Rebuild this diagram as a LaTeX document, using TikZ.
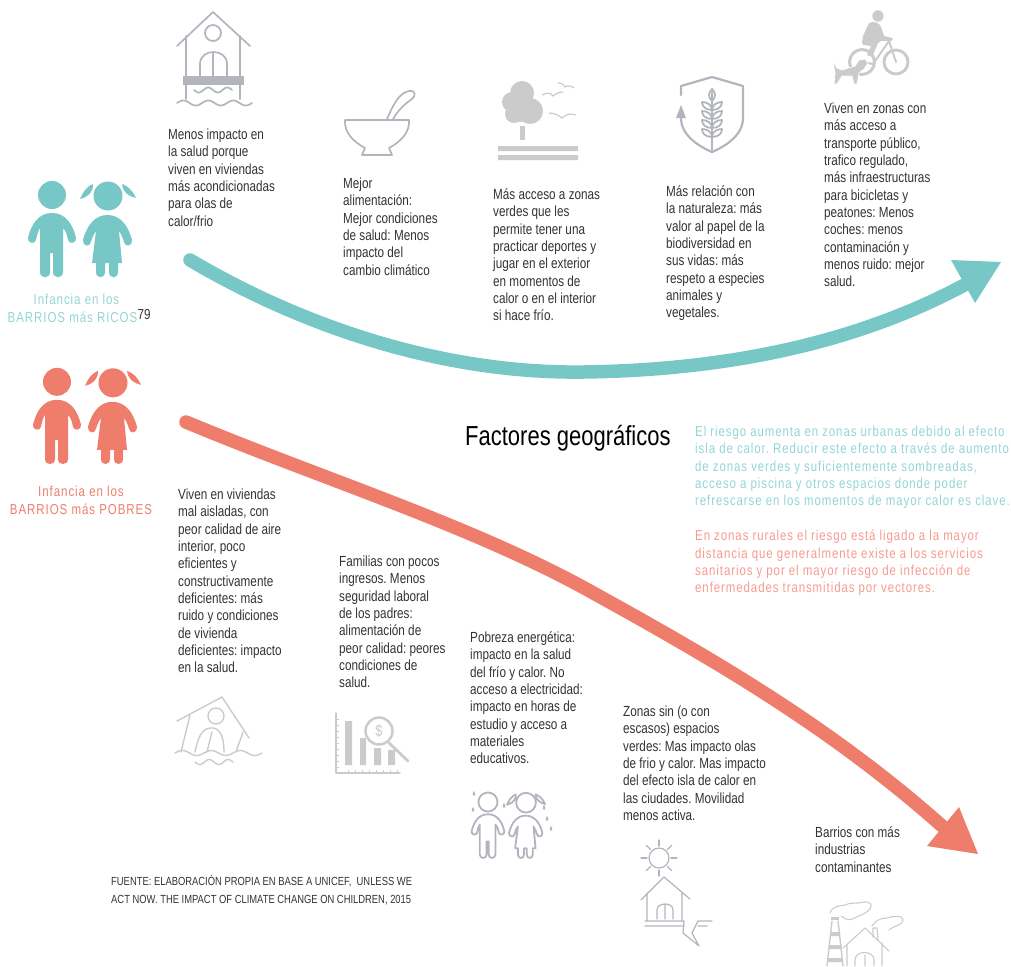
\documentclass[tikz,border=0pt]{standalone}
\usepackage{fontspec}
\usetikzlibrary{calc}
\setmainfont{Liberation Sans}
\newfontfamily\nrw[FakeStretch=0.80]{Liberation Sans}
\newfontfamily\nrwsp[FakeStretch=0.80,LetterSpace=6.5]{Liberation Sans}
\definecolor{teal1}{HTML}{76C7C6}
\definecolor{red1}{HTML}{EE7D6B}
\definecolor{tealtxt}{HTML}{93D5D5}
\definecolor{redtxt}{HTML}{F79A8E}
\definecolor{ink}{HTML}{333333}
\definecolor{icoa}{HTML}{B2B5BD}
\definecolor{icob}{HTML}{CBCBCB}
\frenchspacing
\tikzset{
  body/.style={font=\nrw\fontsize{14.65}{17.35}\selectfont,text=ink,anchor=north west,inner sep=0pt,align=left},
  side/.style={font=\nrwsp\fontsize{14.3}{17.3}\selectfont,anchor=north west,inner sep=0pt,align=left},
  kid/.style={font=\nrwsp\fontsize{14.4}{18}\selectfont,anchor=north,inner sep=0pt,align=center},
  ico/.style={draw=icoa,line width=1.7pt,line cap=round,line join=round,fill=none},
  icg/.style={draw=icob,line width=1.4pt,line cap=round,line join=round,fill=none},
  shaft/.style={line width=13.5pt,line cap=round}
}
\def\boyfig{(52,213) .. controls (38,213) and (31,225) .. (28,238) .. controls (27,243) and (35,245) .. (36,240) .. controls (37,235) and (38,231) .. (40,228) -- (40,272) .. controls (40,279) and (50,279) .. (50,272) -- (50,253) -- (53,253) -- (53,272) .. controls (53,279) and (63,279) .. (63,272) -- (63,228) .. controls (66,231) and (67,235) .. (68,240) .. controls (69,245) and (77,243) .. (76,238) .. controls (73,225) and (66,213) .. (52,213) -- cycle (52,195) circle[radius=14]}
\def\girlfig{(107.5,215) .. controls (95,215) and (87,225) .. (83,240) .. controls (82,246) and (90,248) .. (91,242) .. controls (92,238) and (94,234) .. (96,231) -- (92,263) -- (96,263) -- (96,272) .. controls (96,279) and (105,279) .. (105,272) -- (105,263) -- (109,263) -- (109,272) .. controls (109,279) and (118,279) .. (118,272) -- (118,263) -- (122,263) -- (119,231) .. controls (121,234) and (123,238) .. (124,242) .. controls (125,248) and (133,246) .. (132,240) .. controls (128,225) and (120,215) .. (107.5,215) -- cycle (108,196) circle[radius=14.5]
 (80,199) .. controls (83,192) and (87,186) .. (93,184) .. controls (94,190) and (89,197) .. (80,199) -- cycle
 (136,198) .. controls (133,191) and (128,186) .. (122,184) .. controls (122,190) and (127,196) .. (136,198) -- cycle}
\def\tear#1#2{(#1,#2) .. controls (#1-2,#2+3) and (#1-1.5,#2+5) .. (#1,#2+5) .. controls (#1+1.5,#2+5) and (#1+2,#2+3) .. (#1,#2) -- cycle}
\begin{document}
\begin{tikzpicture}[x=1pt,y=-1pt]
\useasboundingbox (0,0) rectangle (1011,966);
% children
\fill[teal1] \boyfig;
\fill[teal1] \girlfig;
\begin{scope}[shift={(5,186.8)}]
\fill[red1] \boyfig;
\fill[red1] \girlfig;
\end{scope}
\node[kid,text=tealtxt] (richlabel) at (72.5,293.5) {\hspace*{8pt}Infancia en los\\BARRIOS más RICOS};
\node[font=\nrw\fontsize{14.5}{15}\selectfont,text=ink,inner sep=0pt,anchor=base west] (note) at (137.5,319) {79};
\node[kid,text=red1] (poorlabel) at (81,485.5) {Infancia en los\\BARRIOS más POBRES};
% arrows
\coordinate (ta) at (190,260);
\coordinate (tm) at (584,372);
\coordinate (tb) at (968,283);
\coordinate (ra) at (186,422);
\coordinate (rm) at (588,590);
\coordinate (rb) at (942,826);
\draw[teal1,shaft] (ta) .. controls (300,325) and (440,374) .. (tm) .. controls (730,370) and (860,342) .. (tb);
\fill[teal1] (1001,262) -- (951,260) -- (975,303) -- cycle;
\draw[red1,shaft] (ra) .. controls (320,478) and (470,525) .. (rm) .. controls (700,652) and (825,722) .. (rb);
\fill[red1] (978,854) -- (959,807) -- (927,846) -- cycle;
% texts
\node[body] (t1) at (168,128.5) {Menos impacto en\\la salud porque\\viven en viviendas\\más acondicionadas\\para olas de\\calor/frio};
\node[body] (t2) at (343,177.5) {Mejor\\alimentación:\\Mejor condiciones\\de salud: Menos\\impacto del\\cambio climático};
\node[body] (t3) at (493,188.5) {Más acceso a zonas\\verdes que les\\permite tener una\\practicar deportes y\\jugar en el exterior\\en momentos de\\calor o en el interior\\si hace frío.};
\node[body] (t4) at (666,185.5) {Más relación con\\la naturaleza: más\\valor al papel de la\\biodiversidad en\\sus vidas: más\\respeto a especies\\animales y\\vegetales.};
\node[body] (t5) at (824,102.5) {Viven en zonas con\\más acceso a\\transporte público,\\trafico regulado,\\más infraestructuras\\para bicicletas y\\peatones: Menos\\coches: menos\\contaminación y\\menos ruido: mejor\\salud.};
\node[body] (t6) at (178,488.5) {Viven en viviendas\\mal aisladas, con\\peor calidad de aire\\interior, poco\\eficientes y\\constructivamente\\deficientes: más\\ruido y condiciones\\de vivienda\\deficientes: impacto\\en la salud.};
\node[body] (t7) at (339,555.5) {Familias con pocos\\ingresos. Menos\\seguridad laboral\\de los padres:\\alimentación de\\peor calidad: peores\\condiciones de\\salud.};
\node[body] (t8) at (470,631.5) {Pobreza energética:\\impacto en la salud\\del frío y calor. No\\acceso a electricidad:\\impacto en horas de\\estudio y acceso a\\materiales\\educativos.};
\node[body] (t9) at (623,705.5) {Zonas sin (o con\\escasos) espacios\\verdes: Mas impacto olas\\de frio y calor. Mas impacto\\del efecto isla de calor en\\las ciudades. Movilidad\\menos activa.};
\node[body] (t10) at (815,826.5) {Barrios con más\\industrias\\contaminantes};
\node[body,font=\nrw\fontsize{11.75}{18}\selectfont] (src) at (111,875) {FUENTE: ELABORACIÓN PROPIA EN BASE A UNICEF,~ UNLESS WE\\ACT NOW. THE IMPACT OF CLIMATE CHANGE ON CHILDREN, 2015};
\node[anchor=base west,inner sep=0pt,font=\nrw\fontsize{27.5}{30}\selectfont,text=black] (title) at (465,445) {Factores geográficos};
\node[side,text=tealtxt] (pa) at (695,426) {El riesgo aumenta en zonas urbanas debido al efecto\\isla de calor. Reducir este efecto a través de aumento\\de zonas verdes y suficientemente sombreadas,\\acceso a piscina y otros espacios donde poder\\refrescarse en los momentos de mayor calor es clave.};
\node[side,text=redtxt] (pb) at (695,530) {En zonas rurales el riesgo está ligado a la mayor\\distancia que generalmente existe a los servicios\\sanitarios y por el mayor riesgo de infección de\\enfermedades transmitidas por vectores.};
% house on stilts
\draw[ico] (177,46) -- (213,12) -- (250,46);
\draw[ico] (186,36) -- (186,99) (240,36) -- (240,99);
\draw[ico] (213,33) circle[radius=8];
\draw[ico] (200,78) -- (200,64) .. controls (200,48) and (227,48) .. (227,64) -- (227,78) (213,53) -- (213,78);
\fill[icoa] (183,76) rectangle (244,85);
\draw[ico] plot[domain=194:232,samples=40] (\x,{90+2.5*sin((\x-194)*18.95)});
\draw[ico] plot[domain=177:252,samples=70] (\x,{103-2.5*sin((\x-177)*14.4)});
% bowl
\draw[ico] (345,120) -- (409,120) .. controls (410,133) and (400,142) .. (389,148) -- (392,155) -- (362,155) -- (365,148) .. controls (354,142) and (344,133) .. (345,120) -- cycle;
\draw[ico] (387,119) .. controls (392,108) and (398,93) .. (409,91) .. controls (416,90) and (416,96) .. (412,99) .. controls (403,105) and (397,112) .. (393,119);
% tree
\fill[icob] (522,93) circle[radius=12] (512,102) circle[radius=10] (530,111) circle[radius=13] (514,114) circle[radius=9] (520,110) circle[radius=12];
\fill[icob] (520,126) rectangle (525,140);
\fill[icob] (498,146) rectangle (578,151) (498,155) rectangle (578,160);
\draw[icob,line width=1.2pt] (542,95) .. controls (547,92) and (551,93) .. (553,96) .. controls (556,93) and (560,92) .. (563,92);
\draw[icob,line width=1.2pt] (558,83) .. controls (562,83) and (564,85) .. (565,87) .. controls (568,85) and (571,86) .. (574,88);
\draw[icob,line width=1.2pt] (549,113) .. controls (554,113) and (558,115) .. (562,118) .. controls (566,114) and (571,113) .. (576,115);
% shield
\draw[ico,line width=2.2pt] (681,95) -- (681,86) -- (712,77) -- (743,86) -- (743,118) .. controls (743,135) and (726,146) .. (712,152) .. controls (698,146) and (681,135) .. (681,118);
\fill[icoa] (681,105) -- (676,118) -- (686,118) -- cycle;
\draw[ico] (712,92) -- (712,150);
\foreach \yy in {104,113,122,131} {
  \draw[ico,line width=1.8pt] (712,\yy+6) .. controls (705,\yy+6) and (702,\yy+2) .. (702,\yy-2) .. controls (707,\yy-2) and (712,\yy+1) .. (712,\yy+6);
  \draw[ico,line width=1.8pt] (712,\yy+6) .. controls (719,\yy+6) and (722,\yy+2) .. (722,\yy-2) .. controls (717,\yy-2) and (712,\yy+1) .. (712,\yy+6);
}
\draw[ico,line width=1.8pt] (712,101) .. controls (708,97) and (708,93) .. (712,89) .. controls (716,93) and (716,97) .. (712,101);
% cyclist and dog
\draw[icob,line width=3pt] (896,62) circle[radius=12];
\draw[icob,line width=3pt] (862,62) circle[radius=12.5];
\draw[icob,line width=2pt,line cap=round,line join=round] (896,62) -- (889,41) -- (873,64) -- (862,62) (889,41) -- (892,39);
\fill[icob] (878,16) circle[radius=5.7];
\fill[icob] (869,23) .. controls (875,20) and (880,24) .. (881,27) -- (884,36) -- (892,38) -- (891,41) -- (881,41) -- (878,43) -- (872,57) -- (867,55) -- (871,46) -- (863,45) -- (862,42) -- (863,36) -- cycle;
\fill[icob,draw=white,line width=.7pt] (833,61) -- (837,68) -- (842,70) -- (855,66) -- (859,60) -- (865,59) -- (868,63) -- (864,69) -- (859,73) -- (857,84) -- (854,84) -- (852,76) -- (842,76) -- (837,84) -- (834,84) -- (835,73) -- cycle;
% tilted house
\draw[icg] (177,721) -- (222,697) -- (249,738);
\draw[icg] (216,716) circle[radius=8];
\draw[icg] (190,715) -- (181,752) (243,732) -- (236,752);
\draw[icg] (195,752) .. controls (198,737) and (202,729) .. (210,728) .. controls (218,727) and (224,733) .. (224,752) (212,732) -- (207,752);
\draw[icg] plot[domain=175:262,samples=80] (\x,{753-2.5*sin((\x-175)*12.41)});
\draw[icg] plot[domain=195:233,samples=40] (\x,{762+2.5*sin((\x-195)*18.95)});
% chart
\draw[icg] (336,713) -- (336,773) -- (400,773);
\foreach \yy in {719,725,731,737,743,749,755,761,767} \draw[icob,line width=.5pt] (336,\yy) -- (339,\yy);
\foreach \xx in {348,355,362,369,376,383,390,397} \draw[icob,line width=.5pt] (\xx,773) -- (\xx,770);
\fill[icob] (345,721) rectangle (352,765) (360,738) rectangle (366,765) (374,748) rectangle (381,765) (388,750) rectangle (395,765);
\draw[icg,line width=2.8pt] (389,743) -- (408,761);
\draw[icg,fill=white,line width=2.5pt] (379,731) circle[radius=13.5];
\node[font=\nrw\fontsize{16}{16}\selectfont,text=icob,inner sep=0pt] (dollar) at (379,731) {\$};
% sad children
\begin{scope}[shift={(452.6,669.4)},scale=.68]
\draw[ico,line width=1.8pt] \boyfig;
\draw[ico,line width=1.8pt] \girlfig;
\end{scope}
\fill[icoa] \tear{474}{791} \tear{473}{807} \tear{504}{803} \tear{547}{816} \tear{544}{805} \tear{551}{826};
% sun house
\draw[ico,line width=1.2pt] (659,858) circle[radius=10];
\foreach \aa in {0,45,...,315} \draw[ico,line width=1.2pt] ($(659,858)+(\aa:12)$) -- ($(659,858)+(\aa:18)$);
\draw[ico,line width=1.2pt] (641,900) -- (664,877) -- (690,899) (647,893) -- (647,921) (682,893) -- (682,921);
\draw[ico,line width=1.2pt] (657,919) -- (657,910) .. controls (657,902) and (673,902) .. (673,910) -- (673,919) (665,904) -- (665,919);
\draw[ico,line width=1.2pt] (645,921) -- (684,921) -- (683,933) -- (699,946) -- (692,933) -- (698,921) -- (712,921) (645,926) -- (684,926) (698,926) -- (707,926);
% factory
\fill[icob] (831,917) rectangle (839,920);
\draw[icg] (832,921) -- (827,966) (838,921) -- (843,966);
\fill[icob] (830,932) rectangle (840,936) (828.5,945) rectangle (841.5,949) (827,958) rectangle (843,962);
\draw[icg,line width=1.1pt] (843,948) -- (865,928) -- (889,951) (847,945) -- (847,966) (882,943) -- (882,966);
\draw[icg,line width=1.1pt] (855,966) -- (855,960) .. controls (855,950) and (874,950) .. (874,960) -- (874,966) (865,955) -- (865,966);
\draw[icg,line width=1.1pt] (873,937) -- (873,928) -- (877,928) -- (878,940);
\draw[icg,line width=1.1pt] (830,913) .. controls (832,906) and (840,906) .. (845,905) .. controls (850,902) and (858,904) .. (864,902) .. controls (870,901) and (873,905) .. (870,909) .. controls (866,914) and (858,916) .. (852,919) .. controls (848,921) and (844,918) .. (841,916);
\draw[icg,line width=1.1pt] (872,926) .. controls (875,921) and (880,918) .. (887,918) .. controls (893,916) and (903,915) .. (903,920) .. controls (903,925) and (895,925) .. (889,930);
\end{tikzpicture}
\end{document}
